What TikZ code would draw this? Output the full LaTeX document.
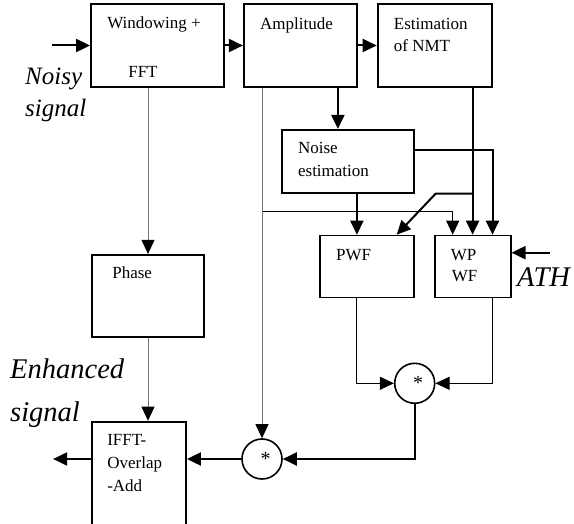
\documentclass[tikz,border=0pt]{standalone}
\usepackage{fontspec}
\setmainfont{Liberation Serif}
\usetikzlibrary{positioning, arrows.meta, calc}

\begin{document}
\begin{tikzpicture}[x=1pt, y=-1pt,
      blk/.style={draw, line width=1.8pt, inner sep=0pt},
      mul/.style={draw, circle, line width=1.6pt, minimum size=40pt, inner sep=0pt, font=\fontsize{20}{22}\selectfont},
      txt/.style={anchor=base west, inner sep=0pt, font=\fontsize{17}{20}\selectfont},
      sig/.style={anchor=base west, inner sep=0pt, font=\fontsize{25}{30}\selectfont\itshape},
      bigsig/.style={sig, font=\fontsize{28.5}{34}\selectfont\itshape},
      ah/.style={-{Triangle[length=14pt, width=13pt, color=black]}},
      thk/.style={ah, line width=2pt},
      thn/.style={ah, line width=0.9pt},
      gry/.style={ah, line width=0.9pt, draw=black!55}]
    \useasboundingbox (0,0) rectangle (574,524);
    % blocks
    \node[blk, minimum width=133pt, minimum height=83pt] (win) at (157.5,45.5) {};
    \node[blk, minimum width=113pt, minimum height=83pt, right=18pt of win] (amp) {};
    \node[blk, minimum width=114pt, minimum height=83pt, right=19pt of amp] (nmt) {};
    \node[blk, minimum width=132pt, minimum height=63pt, below right=41pt and 38pt of amp.south west] (noise) {};
    \node[blk, minimum width=94pt, minimum height=62pt, below right=41pt and 38pt of noise.south west] (pwf) {};
    \node[blk, minimum width=76pt, minimum height=62pt, right=19pt of pwf] (wpwf) {};
    \node[blk, minimum width=112pt, minimum height=82pt, below right=166pt and 1pt of win.south west] (phase) {};
    \node[blk, minimum width=94pt, minimum height=103pt, below right=83pt and 0pt of phase.south west] (ifft) {};
    \node[mul, below=64pt of pwf.south east] (mula) {\kern7pt\raisebox{-6pt}{*}};
    \node[mul] (mulb) at (262,459) {\kern7pt\raisebox{-6pt}{*}};
    % block texts
    \node[txt] at ($(win.north west)+(17,25)$) {Windowing +};
    \node[txt] at ($(win.north west)+(38,74)$) {FFT};
    \node[txt] at ($(amp.north west)+(17,26)$) {Amplitude};
    \node[txt] at ($(nmt.north west)+(17,26)$) {Estimation};
    \node[txt] at ($(nmt.north west)+(17,48)$) {of NMT};
    \node[txt] at ($(noise.north west)+(17,25)$) {Noise};
    \node[txt] at ($(noise.north west)+(17,48)$) {estimation};
    \node[txt] at ($(pwf.north west)+(17,26)$) {PWF};
    \node[txt] at ($(wpwf.north west)+(17,26)$) {WP};
    \node[txt] at ($(wpwf.north west)+(18,47)$) {WF};
    \node[txt] at ($(phase.north west)+(21,25)$) {Phase};
    \node[txt] at ($(ifft.north west)+(16,25)$) {IFFT-};
    \node[txt] at ($(ifft.north west)+(16,48)$) {Overlap};
    \node[txt] at ($(ifft.north west)+(16,71)$) {-Add};
    % signal labels
    \node[sig] (noisy) at (25,85) {Noisy};
    \node[sig] (noisy2) at (25,117) {signal};
    \node[bigsig] (enh) at (10,378) {Enhanced};
    \node[bigsig] (enh2) at (10,421) {signal};
    \node[bigsig] (ath) at (517,287) {ATH};
    % connectors
    \coordinate (noisyin) at ($(win.west)+(-38,0)$);
    \coordinate (athin) at ($(wpwf.north east)+(38,18)$);
    \coordinate (enhout) at ($(ifft.west |- mulb)+(-38,0)$);
    \draw[thk] (noisyin) -- (win.west);
    \draw[thk] (win) -- (amp);
    \draw[thk] (amp) -- (nmt);
    \draw[thk] ($(amp.south west)+(95,0)$) -- ($(noise.north west)+(57,0)$);
    \draw[gry] (mulb.north |- amp.south) -- (mulb.north);
    \draw[thn] ($(amp.south west)+(20,124)$) -| ($(wpwf.north west)+(19,0)$);
    \draw[thk] ($(noise.south west)+(76,0)$) -- ($(pwf.north west)+(38,0)$);
    \draw[thk] ($(noise.north east)+(0,21)$) -| ($(wpwf.north east)+(-19,0)$);
    \draw[thk] (wpwf.north |- nmt.south) -- (wpwf.north);
    \draw[thk] (wpwf.north |- noise.south) -- ++(-37,0) -- ($(pwf.north east)+(-18,0)$);
    \draw[thk] (athin) -- (athin -| wpwf.east);
    \draw[thn] ($(pwf.south west)+(38,0)$) |- (mula.west);
    \draw[thn] ($(wpwf.south east)+(-19,0)$) |- (mula.east);
    \draw[thk] (mula.south) |- (mulb.east);
    \draw[thk] (mulb.west) -- (mulb.west -| ifft.east);
    \draw[thk] (ifft.west |- mulb) -- (enhout);
    \draw[gry] (phase.north |- win.south) -- (phase.north);
    \draw[gry] (phase.south) -- (phase.south |- ifft.north);
  \end{tikzpicture}
\end{document}
